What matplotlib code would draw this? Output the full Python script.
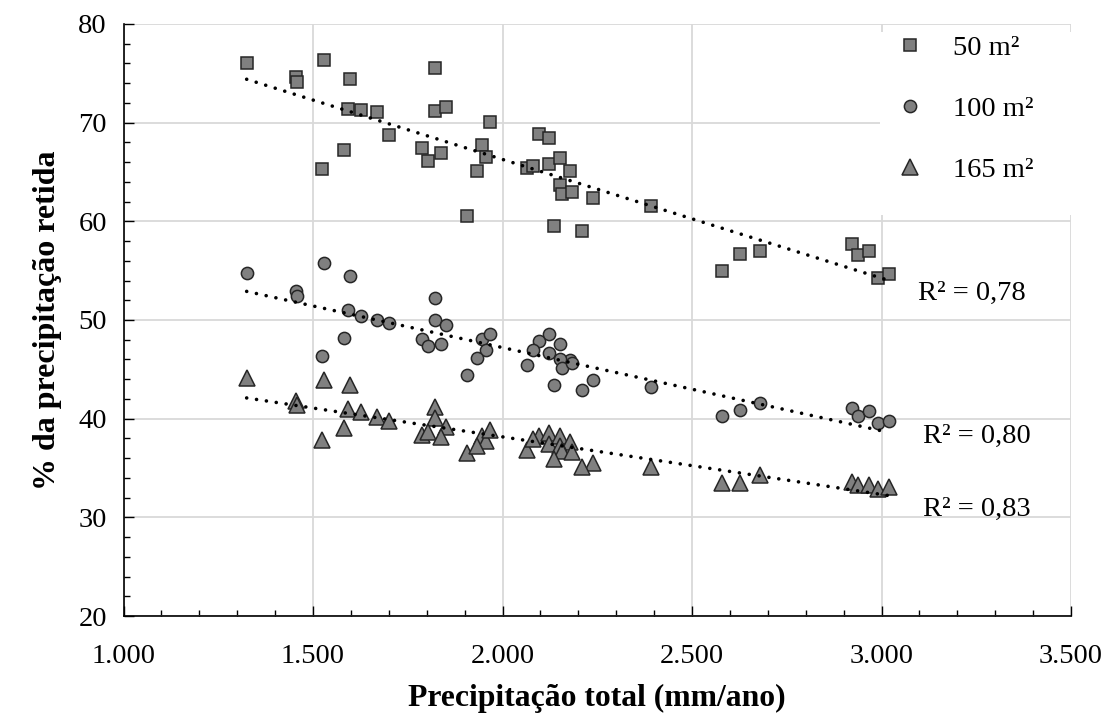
import numpy as np
import matplotlib
matplotlib.use("Agg")
import matplotlib.pyplot as plt
from matplotlib.ticker import MultipleLocator, FuncFormatter
from matplotlib.patches import Rectangle

# ---- data ----
precip = [1325, 1455, 1459, 1528, 1524, 1597, 1583, 1592, 1627, 1670, 1700,
          1821, 1821, 1851, 1787, 1803, 1838, 1907, 1947, 1956, 1933, 1968,
          2097, 2123, 2064, 2080, 2123, 2152, 2179, 2152, 2158, 2184, 2240,
          2136, 2209, 2391, 2580, 2627, 2679, 2921, 2939, 2968, 2992, 3020]

ret_50 = [76.0, 74.6, 74.1, 76.35, 65.3, 74.4, 67.2, 71.4, 71.3, 71.05, 68.7,
          75.5, 71.2, 71.6, 67.4, 66.1, 66.9, 60.5, 67.7, 66.5, 65.1, 70.1,
          68.9, 68.4, 65.4, 65.6, 65.8, 66.4, 65.1, 63.65, 62.8, 62.95, 62.4,
          59.5, 59.0, 61.6, 55.0, 56.7, 57.0, 57.7, 56.6, 57.0, 54.3, 54.7]

ret_100 = [54.8, 52.9, 52.4, 55.8, 46.4, 54.5, 48.2, 51.0, 50.4, 50.0, 49.7,
           52.2, 50.0, 49.5, 48.05, 47.4, 47.55, 44.4, 48.05, 47.0, 46.1, 48.55,
           47.9, 48.55, 45.4, 47.0, 46.7, 47.6, 45.9, 46.0, 45.1, 45.6, 43.9,
           43.4, 42.9, 43.25, 40.3, 40.9, 41.6, 41.1, 40.3, 40.75, 39.6, 39.8]

ret_165 = [44.1, 41.8, 41.4, 43.9, 37.85, 43.4, 39.1, 41.0, 40.65, 40.2, 39.8,
           41.2, 40.05, 39.2, 38.35, 38.6, 38.1, 36.5, 38.2, 37.7, 37.2, 38.9,
           38.2, 38.5, 36.8, 37.9, 37.4, 38.2, 37.6, 37.2, 36.7, 36.6, 35.5,
           35.9, 35.15, 35.15, 33.5, 33.5, 34.3, 33.55, 33.3, 33.3, 32.85, 33.05]

# linear trendline values at the first and last precipitation value
trend_start = [74.4, 52.9, 42.1]
trend_end = [54.0, 38.6, 32.2]

series_labels = ["50 m²", "100 m²", "165 m²"]
r2_labels = ["R² = 0,78", "R² = 0,80", "R² = 0,83"]
r2_pos = [(3096, 52.7), (3110, 38.2), (3110, 30.8)]

x_label = "Precipitação total (mm/ano)"
y_label = "% da precipitação retida"

# ---- styling ----
plt.rcParams['font.family'] = ['Liberation Serif', 'DejaVu Serif']
FS = 20.5
W, H = 1112, 716

fig = plt.figure(figsize=(W / 100, H / 100), dpi=100)
ax = fig.add_axes([123.5 / W, 1 - 616 / H, 947.5 / W, 592 / H])

fill = "#808080"
edge = "#262626"
markers = ["s", "o", "^"]
msizes = [8.6, 8.8, 12.0]
series = [ret_50, ret_100, ret_165]

x = np.array(precip, dtype=float)
for ys, m, ms, lab in zip(series, markers, msizes, series_labels):
    ax.plot(x, ys, linestyle="none", marker=m, markersize=ms,
            markerfacecolor=fill, markeredgecolor=edge, markeredgewidth=1.1,
            label=lab, zorder=3)

xe = [x.min(), x.max()]
for y0, y1 in zip(trend_start, trend_end):
    ax.plot(xe, [y0, y1], color="black", linewidth=2.6,
            linestyle=(0, (0.01, 2.75)), dash_capstyle="round", zorder=4)

for txt, (tx, ty) in zip(r2_labels, r2_pos):
    ax.text(tx, ty, txt, fontsize=FS, va="center", ha="left", zorder=5)

ax.set_xlim(1000, 3500)
ax.set_ylim(20, 80)
ax.xaxis.set_major_locator(MultipleLocator(500))
ax.xaxis.set_minor_locator(MultipleLocator(100))
ax.yaxis.set_major_locator(MultipleLocator(10))
ax.yaxis.set_minor_locator(MultipleLocator(2))
ax.xaxis.set_major_formatter(FuncFormatter(lambda v, p: f"{v:,.0f}".replace(",", ".")))
ax.yaxis.set_major_formatter(FuncFormatter(lambda v, p: f"{v:.0f}"))

ax.grid(True, which="major", color="#d9d9d9", linewidth=1.3, zorder=0)
ax.set_axisbelow(True)
for s in ["top", "right"]:
    ax.spines[s].set_visible(False)
for s in ["left", "bottom"]:
    ax.spines[s].set_color("black")
    ax.spines[s].set_linewidth(1.2)
    ax.spines[s].set_zorder(5)

ax.tick_params(axis="both", which="major", direction="in", length=7, width=1.0,
               labelsize=FS, colors="black")
ax.tick_params(axis="both", which="minor", direction="in", length=4, width=1.0)
ax.tick_params(axis="x", which="major", pad=20)
ax.tick_params(axis="y", which="major", pad=12)

ax.set_xlabel(x_label, fontsize=22.8, fontweight="bold", labelpad=11)
ax.set_ylabel(y_label, fontsize=23, fontweight="bold", labelpad=12)

# legend area: white box hiding the grid
lx0, lx1, ly0, ly1 = 880, 1071, 32, 215
ax.add_patch(Rectangle(((lx0 - 123.5) / 947.5, (616 - ly1) / 592),
                       (lx1 - lx0) / 947.5, (ly1 - ly0) / 592,
                       transform=ax.transAxes, facecolor="white", edgecolor="none",
                       zorder=1))
leg = ax.legend(loc="upper left", bbox_to_anchor=((lx0 - 7) / W, 1 - 24 / H),
                bbox_transform=fig.transFigure, fontsize=FS, frameon=False,
                borderpad=0.4, labelspacing=1.23, handlelength=1.8,
                handletextpad=0.61, borderaxespad=0, markerscale=1.0)
leg.set_zorder(6)

fig.savefig("out.png", dpi=100)
